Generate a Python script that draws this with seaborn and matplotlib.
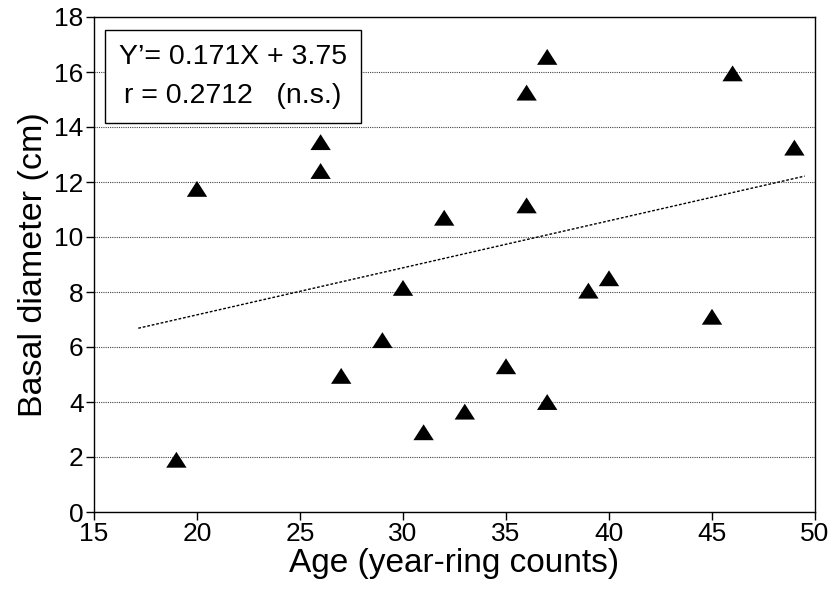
import numpy as np
import pandas as pd
import matplotlib
matplotlib.use("Agg")
import matplotlib.pyplot as plt
import seaborn as sns

# Data
age = [19, 20, 26, 26, 27, 29, 30, 31, 32, 33, 35, 36, 36, 37, 37, 39, 40, 45, 46, 49]
diameter = [1.9, 11.75, 13.45, 12.4, 4.95, 6.25, 8.15, 2.9, 10.7, 3.65,
            5.3, 15.25, 11.15, 16.55, 4.0, 8.05, 8.5, 7.1, 15.95, 13.25]
slope = 0.171
intercept = 3.75
line_x_range = [17.15, 49.5]
x_ticks = [15, 20, 25, 30, 35, 40, 45, 50]
y_ticks = [0, 2, 4, 6, 8, 10, 12, 14, 16, 18]
eq_text = "Y\u2019= 0.171X + 3.75\nr = 0.2712   (n.s.)"

df = pd.DataFrame({"Age": age, "Diameter": diameter})

sns.set_theme(style="ticks")
plt.rcParams["font.family"] = ["Liberation Sans", "DejaVu Sans"]

fig = plt.figure(figsize=(8.33, 5.91), dpi=100)
ax = fig.add_axes([94 / 833, 1 - 512 / 591, (815 - 94) / 833, (512 - 17) / 591])

tri = [(-1, -0.78), (1, -0.78), (0, 0.78)]
sns.scatterplot(data=df, x="Age", y="Diameter", ax=ax, marker=tri, s=215,
                color="black", edgecolor="none", linewidth=0, zorder=3)

lx = np.array(line_x_range)
sns.lineplot(x=lx, y=slope * lx + intercept, ax=ax, color="black",
             linewidth=1.0, linestyle=(0, (2.0, 1.3)), zorder=2)

ax.set_xlim(15, 50)
ax.set_ylim(0, 18)
ax.set_xticks(x_ticks)
ax.set_yticks(y_ticks)
ax.tick_params(axis="both", direction="out", length=6, width=1, colors="black",
               labelsize=19, pad=1.5)
ax.yaxis.grid(True, linestyle=(0, (1, 1)), color="#444444", linewidth=0.8)
ax.xaxis.grid(False)
ax.set_axisbelow(True)
for sp in ax.spines.values():
    sp.set_visible(True)
    sp.set_color("black")
    sp.set_linewidth(1.0)

ax.set_xlabel("Age (year-ring counts)", fontsize=24, labelpad=1, color="black")
ax.set_ylabel("Basal diameter (cm)", fontsize=24.5, labelpad=4, color="black")

ax.text(0.193, 0.880, eq_text, transform=ax.transAxes, ha="center", va="center",
        fontsize=20.5, linespacing=1.65, color="black",
        bbox=dict(boxstyle="square,pad=0.5", facecolor="white",
                  edgecolor="black", linewidth=1.0), zorder=5)

fig.savefig("out.png", dpi=100)
